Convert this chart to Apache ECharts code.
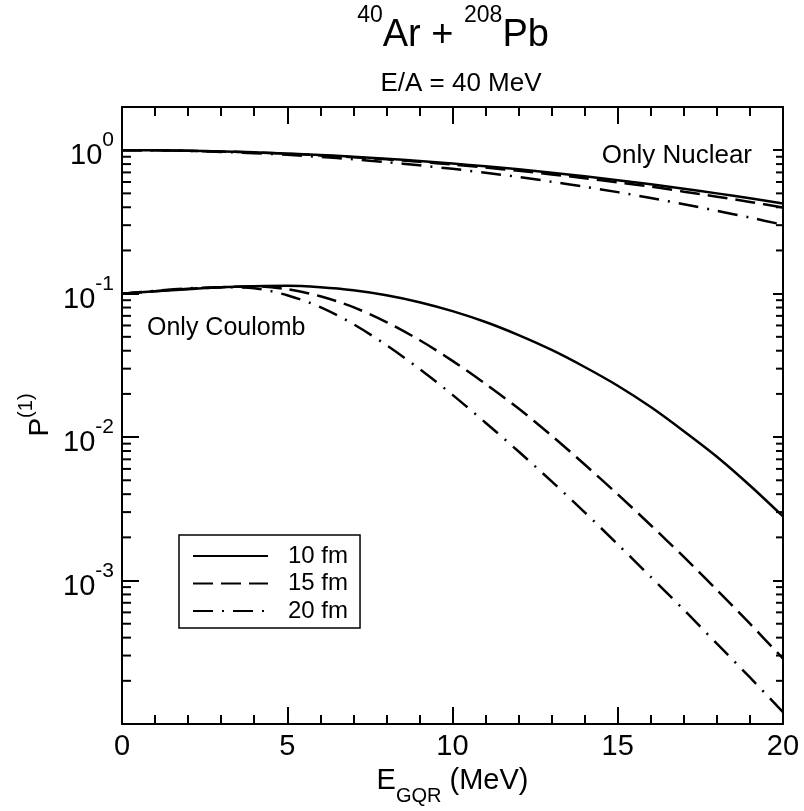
<!DOCTYPE html>
<html><head><meta charset="utf-8">
<script src="https://cdn.jsdelivr.net/npm/echarts@6/dist/echarts.min.js"></script>
<style>html,body{margin:0;padding:0;background:#fff}#c{width:804px;height:811px}</style>
</head><body><div id="c"></div>
<script>
// ---- data ----
const energies = [0,1,2,3,4,5,6,7,8,9,10,11,12,13,14,15,16,17,18,19,20];
const legendNames = ['10 fm', '15 fm', '20 fm'];
// "Only Nuclear"
const nuclear10 = [1.000,0.998,0.992,0.981,0.966,0.948,0.926,0.900,0.872,0.841,0.807,0.772,0.735,0.696,0.657,0.618,0.578,0.539,0.500,0.462,0.425];
const nuclear15 = [1.000,0.998,0.991,0.979,0.964,0.944,0.920,0.893,0.863,0.830,0.794,0.757,0.718,0.678,0.638,0.596,0.557,0.514,0.474,0.436,0.398];
const nuclear20 = [1.000,0.997,0.988,0.973,0.953,0.928,0.898,0.864,0.826,0.784,0.741,0.696,0.650,0.603,0.556,0.510,0.464,0.420,0.378,0.339,0.302];
// "Only Coulomb"
const coulomb10 = [0.100,0.1039,0.1073,0.1108,0.1126,0.1134,0.1108,0.1056,0.0975,0.0872,0.0755,0.0634,0.0514,0.0405,0.0308,0.0228,0.0162,0.0110,0.0073,0.0046,0.0028];
const coulomb15 = [0.100,0.1039,0.1081,0.1108,0.1126,0.1073,0.0959,0.0805,0.0634,0.0475,0.0340,0.0235,0.0158,0.01023,0.00644,0.00399,0.00243,0.00146,0.000861,0.000500,0.000286];
const coulomb20 = [0.100,0.1047,0.1090,0.1108,0.1090,0.0975,0.0805,0.0613,0.0438,0.0299,0.0197,0.0126,0.00793,0.00491,0.00299,0.00179,0.00106,0.000625,0.000363,0.000211,0.000121];
const yDecades = [-4,-3,-2,-1,0];

// ---- chart ----
const FONT = 'Liberation Sans, Arial, Helvetica, sans-serif';
const pair = (ys) => energies.map((e, i) => [e, ys[i]]);
const dashTypes = ['solid', [20, 8], [20, 9, 2, 9]];
const curves = [[nuclear10, coulomb10], [nuclear15, coulomb15], [nuclear20, coulomb20]];
const series = [];
curves.forEach((pairOf, k) => {
  pairOf.forEach(ys => {
    series.push({
      type: 'line', name: legendNames[k], data: pair(ys), showSymbol: false, symbol: 'none',
      smooth: 0.3, xAxisIndex: 0, yAxisIndex: 0,
      lineStyle: { color: '#000', width: 2.5, type: dashTypes[k] },
      itemStyle: { color: '#000' }, silent: true
    });
  });
});
// minor log ticks (2..9 x 10^k)
const minorVals = [];
yDecades.forEach(d => { if (d < 0) for (let m = 2; m <= 9; m++) minorVals.push([0, m * Math.pow(10, d)]); });
series.push({
  type: 'custom', name: 'minor', silent: true, data: minorVals, xAxisIndex: 0, yAxisIndex: 0,
  clip: false, z: 5,
  renderItem: function (params, api) {
    const y = api.value(1);
    const L = api.coord([0, y]);
    const R = api.coord([20, y]);
    return { type: 'group', children: [
      { type: 'line', shape: { x1: L[0], y1: L[1], x2: L[0] + 9, y2: L[1] }, style: { stroke: '#000', lineWidth: 2 } },
      { type: 'line', shape: { x1: R[0] - 7, y1: R[1], x2: R[0], y2: R[1] }, style: { stroke: '#000', lineWidth: 2 } }
    ]};
  }
});

const tickRich = {
  b: { fontSize: 29, fontFamily: FONT, color: '#000', lineHeight: 52, verticalAlign: 'middle' },
  s: { fontSize: 21, fontFamily: FONT, color: '#000', lineHeight: 21, verticalAlign: 'top' }
};
const nameRich = {
  b: { fontSize: 28, fontFamily: FONT, color: '#000', lineHeight: 48, verticalAlign: 'middle' },
  s: { fontSize: 20, fontFamily: FONT, color: '#000', lineHeight: 20, verticalAlign: 'top' }
};

const chart = echarts.init(document.getElementById('c'), null, { renderer: 'canvas' });
chart.setOption({
  animation: false,
  backgroundColor: '#fff',
  textStyle: { fontFamily: FONT },
  title: [
    { text: '{s|40}{b|Ar + }{s|208}{b|Pb}', left: 453, top: 4, padding: 0, textAlign: 'center',
      textStyle: { fontWeight: 'normal', rich: {
        b: { fontSize: 38, fontWeight: 'normal', fontFamily: FONT, color: '#000', lineHeight: 64, verticalAlign: 'middle' },
        s: { fontSize: 23, fontWeight: 'normal', fontFamily: FONT, color: '#000', lineHeight: 23, verticalAlign: 'top' } } } },
    { text: 'E/A = 40 MeV', left: 456, top: 66, textAlign: 'center',
      textStyle: { fontSize: 26, fontWeight: 'normal', fontFamily: FONT, color: '#000' } }
  ],
  grid: { left: 122, right: 21, top: 107, bottom: 86, containLabel: false },
  legend: {
    data: legendNames, orient: 'vertical', left: 179, top: 535,
    itemWidth: 75, itemHeight: 20, itemGap: 3.5,
    padding: [9, 12, 5, 13],
    borderColor: '#000', borderWidth: 1.5, backgroundColor: '#fff',
    selectedMode: false,
    itemStyle: { color: 'rgba(0,0,0,0)', borderWidth: 0, borderColor: 'rgba(0,0,0,0)', opacity: 0 },
    textStyle: { fontSize: 24, fontFamily: FONT, color: '#000', padding: [0, 0, 0, 15], lineHeight: 20 }
  },
  xAxis: [
    { type: 'value', min: 0, max: 20, interval: 5, position: 'bottom',
      name: '{b|E}{sub|GQR}{b| (MeV)}', nameLocation: 'middle', nameGap: 42,
      nameTextStyle: { rich: {
        b: { fontSize: 29, fontFamily: FONT, color: '#000', lineHeight: 32, verticalAlign: 'top' },
        sub: { fontSize: 20, fontFamily: FONT, color: '#000', lineHeight: 40, verticalAlign: 'bottom' } } },
      axisLine: { show: true, onZero: false, lineStyle: { color: '#000', width: 2 } },
      axisTick: { show: true, inside: true, length: 17, lineStyle: { color: '#000', width: 2 } },
      minorTick: { show: true, splitNumber: 5, length: 9, lineStyle: { color: '#000', width: 2 } },
      axisLabel: { fontSize: 29, fontFamily: FONT, color: '#000', margin: 8 },
      splitLine: { show: false } },
    { type: 'value', min: 0, max: 20, interval: 5, position: 'top',
      axisLine: { show: true, onZero: false, lineStyle: { color: '#000', width: 2 } },
      axisTick: { show: true, inside: true, length: 17, lineStyle: { color: '#000', width: 2 } },
      minorTick: { show: true, splitNumber: 5, length: 9, lineStyle: { color: '#000', width: 2 } },
      axisLabel: { show: false }, splitLine: { show: false } }
  ],
  yAxis: [
    { type: 'log', logBase: 10, min: 1e-4, max: 2, position: 'left',
      axisLine: { show: true, onZero: false, lineStyle: { color: '#000', width: 2 } },
      axisTick: { show: true, inside: true, length: 17, lineStyle: { color: '#000', width: 2 } },
      axisLabel: { margin: 8, padding: [12, 0, 0, 0], formatter: function (v) {
        const e = Math.round(Math.log10(v));
        if (Math.abs(Math.log10(v) - e) > 1e-6 || e <= -4 || e > 0) return '';
        return '{b|10}{s|' + e + '}';
      }, rich: tickRich },
      splitLine: { show: false } },
    { type: 'log', logBase: 10, min: 1e-4, max: 2, position: 'right',
      axisLine: { show: true, onZero: false, lineStyle: { color: '#000', width: 2 } },
      axisTick: { show: true, inside: true, length: 10, lineStyle: { color: '#000', width: 2 } },
      axisLabel: { show: false }, splitLine: { show: false } }
  ],
  graphic: [
    { type: 'text', x: 40, y: 415, rotation: Math.PI / 2,
      style: { text: '{b|P}{s|(1)}', align: 'center', verticalAlign: 'middle', rich: nameRich } },
    { type: 'text', right: 52, top: 143, style: { text: 'Only Nuclear', fontSize: 26, fontFamily: FONT, fill: '#000' } },
    { type: 'text', left: 147, top: 316, style: { text: 'Only Coulomb', fontSize: 25, fontFamily: FONT, fill: '#000' } }
  ],
  series: series
});
</script>
</body></html>
